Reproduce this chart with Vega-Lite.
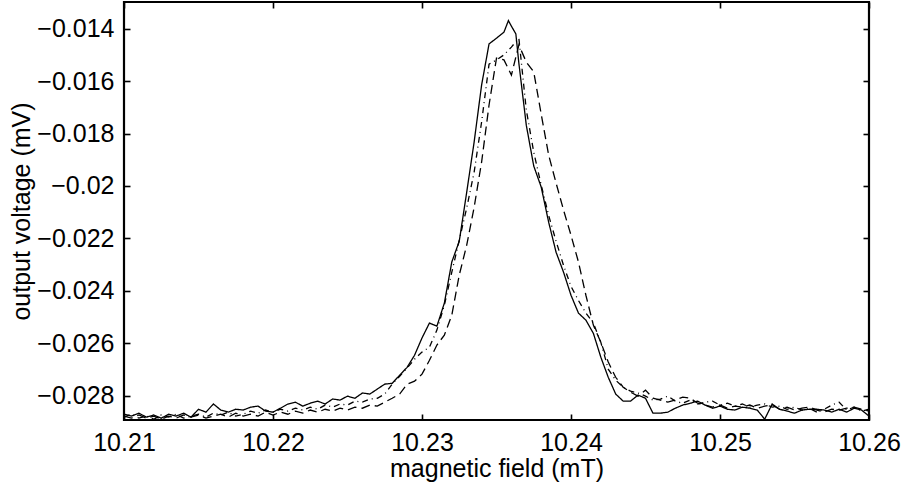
{
  "$schema": "https://vega.github.io/schema/vega-lite/v6.json",
  "width": 745,
  "height": 418,
  "autosize": "none",
  "padding": {"left": 124, "top": 2, "right": 36, "bottom": 68},
  "background": "white",
  "config": {
    "font": "Liberation Sans",
    "view": {"stroke": "black", "strokeWidth": 2.2, "fill": null},
    "axis": {
      "grid": false,
      "domain": false,
      "ticks": true,
      "zindex": 2,
      "tickColor": "#000000",
      "tickOpacity": 1,
      "tickWidth": 1.6,
      "tickSize": 6,
      "offset": -6,
      "labelFlush": false,
      "labelColor": "black",
      "labelFont": "Liberation Sans",
      "labelFontSize": 25,
      "titleFont": "Liberation Sans",
      "titleFontSize": 25,
      "titleFontWeight": "normal",
      "titleColor": "black"
    }
  },
  "datasets": {
    "d": [
{"x":10.2100,"y":-0.02871,"s":"a"},{"x":10.2105,"y":-0.02878,"s":"a"},{"x":10.2110,"y":-0.02867,"s":"a"},{"x":10.2115,"y":-0.02882,"s":"a"},{"x":10.2120,"y":-0.02874,"s":"a"},{"x":10.2125,"y":-0.02886,"s":"a"},{"x":10.2130,"y":-0.02871,"s":"a"},{"x":10.2135,"y":-0.02878,"s":"a"},{"x":10.2140,"y":-0.02867,"s":"a"},{"x":10.2145,"y":-0.02882,"s":"a"},
{"x":10.2150,"y":-0.02852,"s":"a"},{"x":10.2155,"y":-0.02863,"s":"a"},{"x":10.2160,"y":-0.02832,"s":"a"},{"x":10.2165,"y":-0.02855,"s":"a"},{"x":10.2170,"y":-0.02863,"s":"a"},{"x":10.2175,"y":-0.02852,"s":"a"},{"x":10.2180,"y":-0.02855,"s":"a"},{"x":10.2185,"y":-0.02844,"s":"a"},{"x":10.2190,"y":-0.02840,"s":"a"},{"x":10.2195,"y":-0.02859,"s":"a"},
{"x":10.2200,"y":-0.02863,"s":"a"},{"x":10.2205,"y":-0.02848,"s":"a"},{"x":10.2210,"y":-0.02832,"s":"a"},{"x":10.2215,"y":-0.02825,"s":"a"},{"x":10.2220,"y":-0.02840,"s":"a"},{"x":10.2225,"y":-0.02829,"s":"a"},{"x":10.2230,"y":-0.02821,"s":"a"},{"x":10.2235,"y":-0.02832,"s":"a"},{"x":10.2240,"y":-0.02813,"s":"a"},{"x":10.2245,"y":-0.02817,"s":"a"},
{"x":10.2250,"y":-0.02802,"s":"a"},{"x":10.2255,"y":-0.02810,"s":"a"},{"x":10.2260,"y":-0.02790,"s":"a"},{"x":10.2265,"y":-0.02794,"s":"a"},{"x":10.2270,"y":-0.02775,"s":"a"},{"x":10.2275,"y":-0.02756,"s":"a"},{"x":10.2280,"y":-0.02753,"s":"a"},{"x":10.2285,"y":-0.02722,"s":"a"},{"x":10.2290,"y":-0.02692,"s":"a"},{"x":10.2295,"y":-0.02646,"s":"a"},
{"x":10.2300,"y":-0.02580,"s":"a"},{"x":10.2305,"y":-0.02523,"s":"a"},{"x":10.2310,"y":-0.02535,"s":"a"},{"x":10.2315,"y":-0.02447,"s":"a"},{"x":10.2320,"y":-0.02290,"s":"a"},{"x":10.2325,"y":-0.02211,"s":"a"},{"x":10.2330,"y":-0.02024,"s":"a"},{"x":10.2335,"y":-0.01832,"s":"a"},{"x":10.2340,"y":-0.01615,"s":"a"},{"x":10.2345,"y":-0.01458,"s":"a"},
{"x":10.2350,"y":-0.01436,"s":"a"},{"x":10.2355,"y":-0.01413,"s":"a"},{"x":10.2358,"y":-0.01369,"s":"a"},{"x":10.2360,"y":-0.01390,"s":"a"},{"x":10.2363,"y":-0.01420,"s":"a"},{"x":10.2365,"y":-0.01531,"s":"a"},{"x":10.2370,"y":-0.01768,"s":"a"},{"x":10.2375,"y":-0.01924,"s":"a"},{"x":10.2380,"y":-0.02004,"s":"a"},{"x":10.2385,"y":-0.02138,"s":"a"},
{"x":10.2390,"y":-0.02253,"s":"a"},{"x":10.2395,"y":-0.02329,"s":"a"},{"x":10.2400,"y":-0.02417,"s":"a"},{"x":10.2405,"y":-0.02485,"s":"a"},{"x":10.2410,"y":-0.02512,"s":"a"},{"x":10.2415,"y":-0.02562,"s":"a"},{"x":10.2420,"y":-0.02653,"s":"a"},{"x":10.2425,"y":-0.02730,"s":"a"},{"x":10.2430,"y":-0.02794,"s":"a"},{"x":10.2435,"y":-0.02821,"s":"a"},
{"x":10.2440,"y":-0.02821,"s":"a"},{"x":10.2445,"y":-0.02798,"s":"a"},{"x":10.2450,"y":-0.02810,"s":"a"},{"x":10.2455,"y":-0.02867,"s":"a"},{"x":10.2460,"y":-0.02867,"s":"a"},{"x":10.2465,"y":-0.02863,"s":"a"},{"x":10.2470,"y":-0.02848,"s":"a"},{"x":10.2475,"y":-0.02836,"s":"a"},{"x":10.2480,"y":-0.02829,"s":"a"},{"x":10.2485,"y":-0.02821,"s":"a"},
{"x":10.2490,"y":-0.02836,"s":"a"},{"x":10.2495,"y":-0.02848,"s":"a"},{"x":10.2500,"y":-0.02840,"s":"a"},{"x":10.2505,"y":-0.02852,"s":"a"},{"x":10.2510,"y":-0.02855,"s":"a"},{"x":10.2515,"y":-0.02844,"s":"a"},{"x":10.2520,"y":-0.02848,"s":"a"},{"x":10.2525,"y":-0.02855,"s":"a"},{"x":10.2530,"y":-0.02890,"s":"a"},{"x":10.2535,"y":-0.02832,"s":"a"},
{"x":10.2540,"y":-0.02852,"s":"a"},{"x":10.2545,"y":-0.02859,"s":"a"},{"x":10.2550,"y":-0.02867,"s":"a"},{"x":10.2555,"y":-0.02855,"s":"a"},{"x":10.2560,"y":-0.02852,"s":"a"},{"x":10.2565,"y":-0.02852,"s":"a"},{"x":10.2570,"y":-0.02855,"s":"a"},{"x":10.2575,"y":-0.02863,"s":"a"},{"x":10.2580,"y":-0.02852,"s":"a"},{"x":10.2585,"y":-0.02863,"s":"a"},
{"x":10.2590,"y":-0.02848,"s":"a"},{"x":10.2595,"y":-0.02855,"s":"a"},{"x":10.2600,"y":-0.02878,"s":"a"},

{"x":10.2100,"y":-0.02882,"s":"b"},{"x":10.2105,"y":-0.02871,"s":"b"},{"x":10.2110,"y":-0.02886,"s":"b"},{"x":10.2115,"y":-0.02878,"s":"b"},{"x":10.2120,"y":-0.02890,"s":"b"},{"x":10.2125,"y":-0.02874,"s":"b"},{"x":10.2130,"y":-0.02882,"s":"b"},{"x":10.2135,"y":-0.02871,"s":"b"},{"x":10.2140,"y":-0.02886,"s":"b"},{"x":10.2145,"y":-0.02878,"s":"b"},
{"x":10.2150,"y":-0.02871,"s":"b"},{"x":10.2155,"y":-0.02882,"s":"b"},{"x":10.2160,"y":-0.02867,"s":"b"},{"x":10.2165,"y":-0.02874,"s":"b"},{"x":10.2170,"y":-0.02863,"s":"b"},{"x":10.2175,"y":-0.02878,"s":"b"},{"x":10.2180,"y":-0.02871,"s":"b"},{"x":10.2185,"y":-0.02859,"s":"b"},{"x":10.2190,"y":-0.02867,"s":"b"},{"x":10.2195,"y":-0.02855,"s":"b"},
{"x":10.2200,"y":-0.02863,"s":"b"},{"x":10.2205,"y":-0.02852,"s":"b"},{"x":10.2210,"y":-0.02859,"s":"b"},{"x":10.2215,"y":-0.02848,"s":"b"},{"x":10.2220,"y":-0.02855,"s":"b"},{"x":10.2225,"y":-0.02844,"s":"b"},{"x":10.2230,"y":-0.02852,"s":"b"},{"x":10.2235,"y":-0.02836,"s":"b"},{"x":10.2240,"y":-0.02844,"s":"b"},{"x":10.2245,"y":-0.02832,"s":"b"},
{"x":10.2250,"y":-0.02836,"s":"b"},{"x":10.2255,"y":-0.02821,"s":"b"},{"x":10.2260,"y":-0.02825,"s":"b"},{"x":10.2265,"y":-0.02813,"s":"b"},{"x":10.2270,"y":-0.02810,"s":"b"},{"x":10.2275,"y":-0.02794,"s":"b"},{"x":10.2280,"y":-0.02756,"s":"b"},{"x":10.2285,"y":-0.02726,"s":"b"},{"x":10.2290,"y":-0.02695,"s":"b"},{"x":10.2295,"y":-0.02661,"s":"b"},
{"x":10.2300,"y":-0.02634,"s":"b"},{"x":10.2305,"y":-0.02615,"s":"b"},{"x":10.2310,"y":-0.02550,"s":"b"},{"x":10.2315,"y":-0.02455,"s":"b"},{"x":10.2320,"y":-0.02329,"s":"b"},{"x":10.2325,"y":-0.02207,"s":"b"},{"x":10.2330,"y":-0.02084,"s":"b"},{"x":10.2335,"y":-0.01947,"s":"b"},{"x":10.2340,"y":-0.01756,"s":"b"},{"x":10.2345,"y":-0.01535,"s":"b"},
{"x":10.2350,"y":-0.01519,"s":"b"},{"x":10.2355,"y":-0.01500,"s":"b"},{"x":10.2360,"y":-0.01470,"s":"b"},{"x":10.2365,"y":-0.01436,"s":"b"},{"x":10.2370,"y":-0.01710,"s":"b"},{"x":10.2375,"y":-0.01871,"s":"b"},{"x":10.2380,"y":-0.01997,"s":"b"},{"x":10.2385,"y":-0.02112,"s":"b"},{"x":10.2390,"y":-0.02211,"s":"b"},{"x":10.2395,"y":-0.02303,"s":"b"},
{"x":10.2400,"y":-0.02383,"s":"b"},{"x":10.2405,"y":-0.02437,"s":"b"},{"x":10.2410,"y":-0.02485,"s":"b"},{"x":10.2415,"y":-0.02523,"s":"b"},{"x":10.2420,"y":-0.02596,"s":"b"},{"x":10.2425,"y":-0.02699,"s":"b"},{"x":10.2430,"y":-0.02741,"s":"b"},{"x":10.2435,"y":-0.02768,"s":"b"},{"x":10.2440,"y":-0.02783,"s":"b"},{"x":10.2445,"y":-0.02790,"s":"b"},
{"x":10.2450,"y":-0.02802,"s":"b"},{"x":10.2455,"y":-0.02817,"s":"b"},{"x":10.2460,"y":-0.02813,"s":"b"},{"x":10.2465,"y":-0.02802,"s":"b"},{"x":10.2470,"y":-0.02821,"s":"b"},{"x":10.2475,"y":-0.02829,"s":"b"},{"x":10.2480,"y":-0.02817,"s":"b"},{"x":10.2485,"y":-0.02832,"s":"b"},{"x":10.2490,"y":-0.02825,"s":"b"},{"x":10.2495,"y":-0.02821,"s":"b"},
{"x":10.2500,"y":-0.02836,"s":"b"},{"x":10.2505,"y":-0.02829,"s":"b"},{"x":10.2510,"y":-0.02840,"s":"b"},{"x":10.2515,"y":-0.02832,"s":"b"},{"x":10.2520,"y":-0.02844,"s":"b"},{"x":10.2525,"y":-0.02836,"s":"b"},{"x":10.2530,"y":-0.02832,"s":"b"},{"x":10.2535,"y":-0.02844,"s":"b"},{"x":10.2540,"y":-0.02840,"s":"b"},{"x":10.2545,"y":-0.02852,"s":"b"},
{"x":10.2550,"y":-0.02844,"s":"b"},{"x":10.2555,"y":-0.02855,"s":"b"},{"x":10.2560,"y":-0.02848,"s":"b"},{"x":10.2565,"y":-0.02863,"s":"b"},{"x":10.2570,"y":-0.02852,"s":"b"},{"x":10.2575,"y":-0.02836,"s":"b"},{"x":10.2580,"y":-0.02825,"s":"b"},{"x":10.2585,"y":-0.02855,"s":"b"},{"x":10.2590,"y":-0.02844,"s":"b"},{"x":10.2595,"y":-0.02859,"s":"b"},
{"x":10.2600,"y":-0.02852,"s":"b"},

{"x":10.2100,"y":-0.02878,"s":"c"},{"x":10.2105,"y":-0.02886,"s":"c"},{"x":10.2110,"y":-0.02874,"s":"c"},{"x":10.2115,"y":-0.02886,"s":"c"},{"x":10.2120,"y":-0.02878,"s":"c"},{"x":10.2125,"y":-0.02890,"s":"c"},{"x":10.2130,"y":-0.02878,"s":"c"},{"x":10.2135,"y":-0.02886,"s":"c"},{"x":10.2140,"y":-0.02874,"s":"c"},{"x":10.2145,"y":-0.02882,"s":"c"},
{"x":10.2150,"y":-0.02874,"s":"c"},{"x":10.2155,"y":-0.02886,"s":"c"},{"x":10.2160,"y":-0.02878,"s":"c"},{"x":10.2165,"y":-0.02871,"s":"c"},{"x":10.2170,"y":-0.02882,"s":"c"},{"x":10.2175,"y":-0.02867,"s":"c"},{"x":10.2180,"y":-0.02878,"s":"c"},{"x":10.2185,"y":-0.02871,"s":"c"},{"x":10.2190,"y":-0.02878,"s":"c"},{"x":10.2195,"y":-0.02863,"s":"c"},
{"x":10.2200,"y":-0.02874,"s":"c"},{"x":10.2205,"y":-0.02863,"s":"c"},{"x":10.2210,"y":-0.02871,"s":"c"},{"x":10.2215,"y":-0.02859,"s":"c"},{"x":10.2220,"y":-0.02867,"s":"c"},{"x":10.2225,"y":-0.02855,"s":"c"},{"x":10.2230,"y":-0.02863,"s":"c"},{"x":10.2235,"y":-0.02852,"s":"c"},{"x":10.2240,"y":-0.02859,"s":"c"},{"x":10.2245,"y":-0.02848,"s":"c"},
{"x":10.2250,"y":-0.02855,"s":"c"},{"x":10.2255,"y":-0.02844,"s":"c"},{"x":10.2260,"y":-0.02848,"s":"c"},{"x":10.2265,"y":-0.02836,"s":"c"},{"x":10.2270,"y":-0.02840,"s":"c"},{"x":10.2275,"y":-0.02825,"s":"c"},{"x":10.2280,"y":-0.02810,"s":"c"},{"x":10.2285,"y":-0.02794,"s":"c"},{"x":10.2290,"y":-0.02756,"s":"c"},{"x":10.2295,"y":-0.02745,"s":"c"},
{"x":10.2300,"y":-0.02718,"s":"c"},{"x":10.2305,"y":-0.02665,"s":"c"},{"x":10.2310,"y":-0.02607,"s":"c"},{"x":10.2315,"y":-0.02569,"s":"c"},{"x":10.2320,"y":-0.02493,"s":"c"},{"x":10.2325,"y":-0.02340,"s":"c"},{"x":10.2330,"y":-0.02226,"s":"c"},{"x":10.2335,"y":-0.02081,"s":"c"},{"x":10.2340,"y":-0.01909,"s":"c"},{"x":10.2345,"y":-0.01691,"s":"c"},
{"x":10.2350,"y":-0.01512,"s":"c"},{"x":10.2355,"y":-0.01519,"s":"c"},{"x":10.2360,"y":-0.01577,"s":"c"},{"x":10.2365,"y":-0.01462,"s":"c"},{"x":10.2370,"y":-0.01527,"s":"c"},{"x":10.2375,"y":-0.01565,"s":"c"},{"x":10.2380,"y":-0.01726,"s":"c"},{"x":10.2385,"y":-0.01882,"s":"c"},{"x":10.2390,"y":-0.01989,"s":"c"},{"x":10.2395,"y":-0.02092,"s":"c"},
{"x":10.2400,"y":-0.02188,"s":"c"},{"x":10.2405,"y":-0.02290,"s":"c"},{"x":10.2410,"y":-0.02417,"s":"c"},{"x":10.2415,"y":-0.02531,"s":"c"},{"x":10.2420,"y":-0.02596,"s":"c"},{"x":10.2425,"y":-0.02672,"s":"c"},{"x":10.2430,"y":-0.02730,"s":"c"},{"x":10.2435,"y":-0.02768,"s":"c"},{"x":10.2440,"y":-0.02787,"s":"c"},{"x":10.2445,"y":-0.02802,"s":"c"},
{"x":10.2450,"y":-0.02779,"s":"c"},{"x":10.2455,"y":-0.02810,"s":"c"},{"x":10.2460,"y":-0.02817,"s":"c"},{"x":10.2465,"y":-0.02825,"s":"c"},{"x":10.2470,"y":-0.02817,"s":"c"},{"x":10.2475,"y":-0.02806,"s":"c"},{"x":10.2480,"y":-0.02810,"s":"c"},{"x":10.2485,"y":-0.02829,"s":"c"},{"x":10.2490,"y":-0.02836,"s":"c"},{"x":10.2495,"y":-0.02844,"s":"c"},
{"x":10.2500,"y":-0.02836,"s":"c"},{"x":10.2505,"y":-0.02848,"s":"c"},{"x":10.2510,"y":-0.02840,"s":"c"},{"x":10.2515,"y":-0.02844,"s":"c"},{"x":10.2520,"y":-0.02836,"s":"c"},{"x":10.2525,"y":-0.02848,"s":"c"},{"x":10.2530,"y":-0.02840,"s":"c"},{"x":10.2535,"y":-0.02836,"s":"c"},{"x":10.2540,"y":-0.02852,"s":"c"},{"x":10.2545,"y":-0.02844,"s":"c"},
{"x":10.2550,"y":-0.02855,"s":"c"},{"x":10.2555,"y":-0.02848,"s":"c"},{"x":10.2560,"y":-0.02844,"s":"c"},{"x":10.2565,"y":-0.02855,"s":"c"},{"x":10.2570,"y":-0.02863,"s":"c"},{"x":10.2575,"y":-0.02852,"s":"c"},{"x":10.2580,"y":-0.02855,"s":"c"},{"x":10.2585,"y":-0.02848,"s":"c"},{"x":10.2590,"y":-0.02844,"s":"c"},{"x":10.2595,"y":-0.02852,"s":"c"},
{"x":10.2600,"y":-0.02859,"s":"c"}
    ]
  },
  "data": {"name": "d"},
  "layer": [
    {
      "mark": {"type": "line", "color": "black", "strokeWidth": 1.3, "clip": true},
      "encoding": {
        "x": {
          "field": "x", "type": "quantitative",
          "scale": {"domain": [10.21, 10.26], "nice": false, "zero": false},
          "axis": {
            "orient": "bottom",
            "values": [10.21, 10.22, 10.23, 10.24, 10.25, 10.26],
            "format": ".2f",
            "ticks": true,
            "tickSize": 6,
            "tickColor": "#000000",
            "labelPadding": 10,
            "title": "magnetic field (mT)",
            "titleBaseline": "alphabetic",
            "titleY": 62
          }
        },
        "y": {
          "field": "y", "type": "quantitative",
          "scale": {"domain": [-0.02893, -0.01298], "nice": false, "zero": false},
          "axis": {
            "orient": "left",
            "values": [-0.028, -0.026, -0.024, -0.022, -0.02, -0.018, -0.016, -0.014],
            "format": ".3~f",
            "ticks": true,
            "tickSize": 6,
            "tickColor": "#000000",
            "labelPadding": 10,
            "title": "output voltage (mV)",
            "titleBaseline": "alphabetic",
            "titleX": -101
          }
        },
        "strokeDash": {
          "field": "s", "type": "nominal",
          "scale": {"domain": ["a", "b", "c"], "range": [[1, 0], [6, 4, 1, 4], [9, 5]]},
          "legend": null
        }
      }
    },
    {
      "mark": {"type": "line", "opacity": 0},
      "encoding": {
        "x": {
          "field": "x", "type": "quantitative",
          "scale": {"domain": [10.21, 10.26], "nice": false, "zero": false},
          "axis": {"orient": "top", "values": [10.21, 10.22, 10.23, 10.24, 10.25, 10.26], "labels": false, "ticks": true, "tickSize": 6, "tickColor": "#000000", "title": null}
        },
        "y": {
          "field": "y", "type": "quantitative",
          "scale": {"domain": [-0.02893, -0.01298], "nice": false, "zero": false},
          "axis": {"orient": "right", "values": [-0.028, -0.026, -0.024, -0.022, -0.02, -0.018, -0.016, -0.014], "labels": false, "ticks": true, "tickSize": 6, "tickColor": "#000000", "title": null}
        },
        "detail": {"field": "s", "type": "nominal"}
      }
    }
  ],
  "resolve": {"axis": {"x": "independent", "y": "independent"}}
}
